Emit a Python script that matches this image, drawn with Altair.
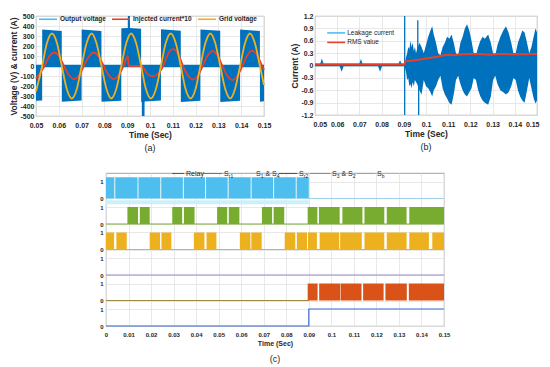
import altair as alt
import pandas as pd

FONT = "Liberation Sans"
DARK = "#262626"
GRID = "#e2e2e2"
FRAME = "#8c8c8c"
BLUE = "#0072BD"

# ---------------- panel (a) data ----------------
A_SERIES = ["Output voltage", "Injected current*10", "Grid voltage"]
A_COLORS = ["#4DBEEE", "#E4402B", "#EDB120"]
A_XTICKS = [0.05, 0.06, 0.07, 0.08, 0.09, 0.1, 0.11, 0.12, 0.13, 0.14, 0.15]
A_YTICKS = [-500, -400, -300, -200, -100, 0, 100, 200, 300, 400, 500]

GRID_T = [0.0500, 0.0527, 0.0548, 0.0570, 0.0592, 0.0613, 0.0635, 0.0657, 0.0679,
          0.0700, 0.0722, 0.0744, 0.0765, 0.0787, 0.0809, 0.0830, 0.0852,
          0.0874, 0.0896, 0.0917, 0.0939, 0.0961, 0.0982, 0.1004, 0.1026,
          0.1048, 0.1069, 0.1091, 0.1113, 0.1135, 0.1156, 0.1178, 0.1200,
          0.1221, 0.1243, 0.1265, 0.1286, 0.1308, 0.1330, 0.1352, 0.1373,
          0.1395, 0.1417, 0.1438, 0.1460, 0.1482, 0.1500]
GRID_V = [-255, 0, 230, 325, 230, 0, -230, -325, -230,
          0, 230, 325, 230, 0, -230, -325, -230,
          0, 230, 325, 230, 0, -230, -325, -230,
          0, 230, 325, 230, 0, -230, -325, -230,
          0, 230, 325, 230, 0, -230, -325, -230,
          0, 230, 325, 230, 0, -190]

INJ_T = [0.0500, 0.0537, 0.0558, 0.0580, 0.0602, 0.0623, 0.0645, 0.0667, 0.0689,
         0.0710, 0.0732, 0.0754, 0.0775, 0.0797, 0.0819, 0.0840, 0.0862,
         0.0884, 0.0895, 0.0903, 0.0907, 0.0935, 0.0965, 0.0985, 0.1014, 0.1036,
         0.1058, 0.1079, 0.1101, 0.1123, 0.1145, 0.1166, 0.1188, 0.1210,
         0.1231, 0.1253, 0.1275, 0.1296, 0.1318, 0.1340, 0.1362, 0.1383,
         0.1405, 0.1427, 0.1448, 0.1470, 0.1492, 0.1500]
INJ_V = [-126, 0, 95, 135, 95, 0, -92, -130, -92,
         0, 95, 135, 95, 0, -92, -130, -92,
         0, 70, 100, 0, 0, 0, -70, -105, -75,
         0, 120, 168, 120, 0, -95, -135, -95,
         0, 105, 150, 105, 0, -100, -140, -100,
         0, 108, 153, 108, 0, -38]

VOUT_T = [0.05000, 0.05270, 0.05272, 0.06130, 0.06132, 0.07000, 0.07002, 0.07870,
          0.07872, 0.08740, 0.08742, 0.09030, 0.09032, 0.09120, 0.09122, 0.09610,
          0.09612, 0.09640, 0.09642, 0.09760, 0.09762, 0.10480, 0.10482, 0.11350,
          0.11352, 0.12210, 0.12212, 0.13080, 0.13082, 0.13950, 0.13952, 0.14820,
          0.14822, 0.15000]
VOUT_V = [-348, -345, 365, 350, -358, -346, 366, 351,
          -358, -347, 378, 381, 500, 500, 381, 372,
          -360, -360, -500, -500, -356, -346, 368, 352,
          -360, -347, 366, 352, -360, -347, 365, 350,
          -358, -352]
ZERO_T = [0.05, 0.15]
ZERO_V = [0, 0]

# ---------------- panel (b) data ----------------
B_SERIES = ["Leakage current", "RMS value"]
B_COLORS = ["#4DBEEE", "#E4402B"]
B_YTICKS = [-1.2, -0.9, -0.6, -0.3, 0, 0.3, 0.6, 0.9, 1.2]

LEAK_T = [0.0500, 0.0522, 0.0531, 0.0540, 0.0611, 0.0620, 0.0629, 0.0698, 0.0707, 0.0716,
          0.0784, 0.0793, 0.0802, 0.0874, 0.0883, 0.0892, 0.0903,
          0.0905, 0.0910, 0.0915, 0.0920, 0.0925, 0.0930, 0.0935, 0.0940, 0.0945, 0.0950,
          0.0955, 0.0960, 0.0970, 0.0980, 0.0990, 0.1000, 0.1010, 0.1020, 0.1028, 0.1035,
          0.1045, 0.1055, 0.1065, 0.1075, 0.1085, 0.1095, 0.1105, 0.1115, 0.1125, 0.1135,
          0.1145, 0.1155, 0.1165, 0.1175, 0.1185, 0.1195, 0.1205, 0.1215, 0.1225, 0.1235,
          0.1245, 0.1255, 0.1265, 0.1280, 0.1292, 0.1302, 0.1312, 0.1322, 0.1335, 0.1348,
          0.1360, 0.1372, 0.1384, 0.1394, 0.1404, 0.1414, 0.1424, 0.1434, 0.1444, 0.1455,
          0.1465, 0.1475, 0.1485, 0.1493, 0.1500]
LEAK_HI = [0.02, 0.02, 0.17, 0.02, 0.02, 0.02, 0.02, 0.02, 0.16, 0.02,
           0.02, 0.02, 0.02, 0.02, 0.13, 0.02, 0.02,
           0.05, 0.20, 0.30, 0.45, 0.40, 0.60, 0.45, 0.55, 0.35, 0.45,
           0.30, 0.40, 0.55, 0.45, 0.30, 0.50, 0.70, 0.85, 0.95, 0.75,
           0.55, 0.30, 0.25, 0.45, 0.55, 0.70, 0.65, 0.75, 0.55, 0.30,
           0.25, 0.55, 0.70, 0.90, 1.00, 0.85, 0.60, 0.30, 0.25, 0.45,
           0.60, 0.70, 0.65, 0.75, 0.55, 0.30, 0.25, 0.50, 0.70, 0.85,
           0.95, 0.80, 0.55, 0.30, 0.30, 0.55, 0.70, 0.85, 0.80, 0.55,
           0.30, 0.45, 0.70, 0.90, 0.80]
LEAK_LO = [-0.02, -0.02, -0.02, -0.02, -0.02, -0.15, -0.02, -0.02, -0.02, -0.02,
           -0.02, -0.15, -0.02, -0.02, -0.02, -0.02, -0.02,
           -0.05, -0.15, -0.35, -0.30, -0.50, -0.45, -0.55, -0.40, -0.50, -0.35,
           -0.40, -0.45, -0.60, -0.70, -0.35, -0.50, -0.55, -0.65, -0.75, -0.60,
           -0.50, -0.35, -0.25, -0.55, -0.70, -0.80, -0.90, -0.95, -0.70, -0.35,
           -0.25, -0.45, -0.60, -0.70, -0.75, -0.65, -0.55, -0.30, -0.35, -0.60,
           -0.75, -0.85, -0.90, -0.95, -0.75, -0.35, -0.25, -0.45, -0.60, -0.65,
           -0.70, -0.65, -0.50, -0.30, -0.35, -0.60, -0.75, -0.85, -0.90, -0.60,
           -0.30, -0.55, -0.80, -0.92, -0.85]
SPIKE_T = [0.0904, 0.0963, 0.0967]
SPIKE_LO = [-1.2, 0.0, -1.2]
SPIKE_HI = [1.2, 1.1, 0.0]

RMS_T = [0.0500, 0.0904, 0.0906, 0.0950, 0.1000, 0.1050, 0.1080, 0.1100, 0.1130, 0.1160,
         0.1200, 0.1230, 0.1260, 0.1290, 0.1320, 0.1350, 0.1380, 0.1410, 0.1440, 0.1470, 0.1500]
RMS_V = [0.03, 0.03, 0.10, 0.13, 0.17, 0.21, 0.25, 0.26, 0.25, 0.27,
         0.28, 0.28, 0.27, 0.26, 0.28, 0.28, 0.27, 0.28, 0.27, 0.28, 0.28]

# legend of (b), placed in the panel's own units
LEGB_X0 = [0.0555, 0.0555]
LEGB_X1 = [0.0636, 0.0636]
LEGB_TX = [0.0645, 0.0645]
LEGB_Y = [0.79, 0.56]

# ---------------- panel (c) data ----------------
C_XTICKS = [0, 0.01, 0.02, 0.03, 0.04, 0.05, 0.06, 0.07, 0.08, 0.09, 0.1, 0.11, 0.12, 0.13, 0.14, 0.15]
C_YTICKS = [0, 1, 1.5, 2.5, 3, 4, 4.5, 5.5, 6, 7, 7.5, 8.5]

SB_START = [0.0, 0.0041, 0.0144, 0.0245, 0.0345, 0.0444, 0.0544, 0.0646, 0.0746, 0.0846]
SB_END = [0.0037, 0.0140, 0.0241, 0.0341, 0.0440, 0.0540, 0.0642, 0.0742, 0.0842, 0.0900]
S32_START = [0.0095, 0.0150, 0.0294, 0.0346, 0.0493, 0.0545, 0.0692, 0.0744,
             0.0895, 0.0945, 0.1049, 0.1147, 0.1246, 0.1346]
S32_END = [0.0142, 0.0194, 0.0338, 0.0393, 0.0538, 0.0592, 0.0737, 0.0791,
           0.0938, 0.1037, 0.1138, 0.1235, 0.1334, 0.1500]
S14_START = [0.0, 0.0046, 0.0194, 0.0246, 0.0390, 0.0446, 0.0594, 0.0645, 0.0793, 0.0847,
             0.0896, 0.0948, 0.1039, 0.1147, 0.1246, 0.1346, 0.1448]
S14_END = [0.0036, 0.0092, 0.0240, 0.0290, 0.0437, 0.0490, 0.0641, 0.0691, 0.0840, 0.0892,
           0.0936, 0.1035, 0.1135, 0.1235, 0.1334, 0.1433, 0.1500]
SR1_START = [0.0895, 0.0946, 0.1042, 0.1141, 0.1240, 0.1344]
SR1_END = [0.0939, 0.1040, 0.1134, 0.1232, 0.1335, 0.1500]
RELAY_T = [0.0, 0.09, 0.09, 0.15]
RELAY_V = [0, 0, 1, 1]

# rows: baseline level (0) of each stacked signal
ROW_BASE = {"Sb": 7.5, "S32": 6.0, "S14": 4.5, "Sr2": 3.0, "Sr1": 1.5, "Relay": 0.0}
ROW_COLOR = {"Sb": "#4DBEEE", "S32": "#77AC30", "S14": "#EDB120",
             "Sr2": "#7E2F8E", "Sr1": "#D95319", "Relay": "#3F6FD0"}

# legend of (c)
LEG_LINE_X0 = [0.0293, 0.0435, 0.0590, 0.0768, 0.0905, 0.1114]
LEG_LINE_X1 = [0.0346, 0.0515, 0.0657, 0.0848, 0.0994, 0.1194]
LEG_LINE_C = ["#0072BD", "#D95319", "#EDB120", "#7E2F8E", "#77AC30", "#4DBEEE"]
LEG_MAIN_X = [0.0355, 0.0524, 0.0666, 0.0708, 0.0737, 0.0857, 0.1003, 0.1045, 0.1074, 0.1203]
LEG_MAIN_S = ["Relay", "S", "S", "&", "S", "S", "S", "&", "S", "S"]
LEG_SUB_X = [0.0545, 0.0687, 0.0758, 0.0878, 0.1024, 0.1095, 0.1224]
LEG_SUB_S = ["r1", "1", "4", "r2", "3", "2", "b"]


def ax(**kw):
    base = dict(labelFont=FONT, titleFont=FONT, labelColor=DARK, titleColor=DARK,
                labelFontWeight="bold", titleFontWeight="bold", ticks=False, domain=False,
                grid=True, gridColor=GRID, gridWidth=0.8, labelOverlap=False,
                labelFlush=False, labelExpr="'' + datum.value")
    base.update(kw)
    return alt.Axis(**base)


# ================= panel (a) =================
SX_A = alt.Scale(domain=[0.05, 0.15], nice=False, zero=False)
SY_A = alt.Scale(domain=[-500, 500], nice=False)
AX_A_X = ax(values=A_XTICKS, title="Time (Sec)", labelFontSize=7, titleFontSize=8.5,
            labelPadding=5, titlePadding=2)
AX_A_Y = ax(values=A_YTICKS, title="Voltage (V) & current (A)", labelFontSize=7,
            titleFontSize=8.5, labelPadding=2, titlePadding=2, minExtent=16, maxExtent=16)


def xa(f):
    return alt.X(f + ":Q", scale=SX_A, axis=AX_A_X)


def ya(f):
    return alt.Y(f + ":Q", scale=SY_A, axis=AX_A_Y)


df_vout = pd.DataFrame({"t": VOUT_T, "v": VOUT_V})
df_vout["z"] = 0
df_zero = pd.DataFrame({"t": ZERO_T, "v": ZERO_V})
df_lines_a = pd.concat([
    pd.DataFrame({"t": INJ_T, "v": INJ_V, "s": A_SERIES[1]}),
    pd.DataFrame({"t": GRID_T, "v": GRID_V, "s": A_SERIES[2]}),
])

area_a = alt.Chart(df_vout).mark_area(color=BLUE, opacity=1).encode(
    x=xa("t"), y=ya("v"), y2="z:Q")
zero_a = alt.Chart(df_zero).mark_line(color=BLUE, strokeWidth=2.5).encode(x=xa("t"), y=ya("v"))
lines_a = alt.Chart(df_lines_a).mark_line(strokeWidth=1.8, interpolate="monotone").encode(
    x=xa("t"), y=ya("v"),
    color=alt.Color("s:N", scale=alt.Scale(domain=A_SERIES, range=A_COLORS),
                    legend=alt.Legend(title=None, orient="none", legendX=2, legendY=-7,
                                      direction="horizontal", symbolType="stroke",
                                      symbolSize=324, symbolStrokeWidth=1.6,
                                      labelFont=FONT, labelFontSize=6.5,
                                      labelFontWeight="bold", labelColor=DARK,
                                      labelOffset=2, columnPadding=2, padding=0)))

chart_a = alt.layer(area_a, zero_a, lines_a).properties(
    width=228, height=100,
    title=alt.TitleParams("(a)", orient="bottom", fontSize=9, fontWeight="normal",
                          font=FONT, color=DARK, offset=5))

# ================= panel (b) =================
SX_B = alt.Scale(domain=[0.05, 0.15], nice=False, zero=False)
SY_B = alt.Scale(domain=[-1.2, 1.2], nice=False)
AX_B_X = ax(values=A_XTICKS, title="Time (Sec)", labelFontSize=7, titleFontSize=8.5,
            labelPadding=5, titlePadding=2, labelFlush=True, labelFlushOffset=2)
AX_B_Y = ax(values=B_YTICKS, title="Current (A)", labelFontSize=7, titleFontSize=8.5,
            labelPadding=2, titlePadding=2, minExtent=14, maxExtent=14)


def xb(f):
    return alt.X(f + ":Q", scale=SX_B, axis=AX_B_X)


def yb(f):
    return alt.Y(f + ":Q", scale=SY_B, axis=AX_B_Y)


df_leak = pd.DataFrame({"tb": LEAK_T, "hi": LEAK_HI, "lo": LEAK_LO})
df_spike = pd.DataFrame({"tb": SPIKE_T, "hi": SPIKE_HI, "lo": SPIKE_LO})
df_rms = pd.DataFrame({"tb": RMS_T, "hi": RMS_V})
df_legb = pd.DataFrame({"tb": LEGB_X0, "tb2": LEGB_X1, "tx": LEGB_TX, "hi": LEGB_Y,
                        "s": B_SERIES, "c": B_COLORS})

area_b = alt.Chart(df_leak).mark_area(color=BLUE, opacity=1).encode(
    x=xb("tb"), y=yb("hi"), y2="lo:Q")
spike_b = alt.Chart(df_spike).mark_rule(color=BLUE, strokeWidth=1.3).encode(
    x=xb("tb"), y=yb("hi"), y2="lo:Q")
rms_b = alt.Chart(df_rms).mark_line(color=B_COLORS[1], strokeWidth=2).encode(
    x=xb("tb"), y=yb("hi"))
legb_lines = alt.Chart(df_legb).mark_rule(strokeWidth=1.6).encode(
    x=xb("tb"), x2="tb2:Q", y=yb("hi"), color=alt.Color("c:N", scale=None))
legb_text = alt.Chart(df_legb).mark_text(align="left", baseline="middle", fontSize=6.5,
                                         font=FONT, color=DARK).encode(
    x=xb("tx"), y=yb("hi"), text="s:N")

chart_b = alt.layer(area_b, spike_b, rms_b, legb_lines, legb_text).properties(
    width=222, height=99,
    title=alt.TitleParams("(b)", orient="bottom", fontSize=9, fontWeight="normal",
                          font=FONT, color=DARK, offset=5))

# ================= panel (c) =================
SX_C = alt.Scale(domain=[0, 0.15], nice=False, zero=False)
SY_C = alt.Scale(domain=[0, 9], nice=False, zero=False)
AX_C_X = ax(values=C_XTICKS, title="Time (Sec)", labelFontSize=6, titleFontSize=7,
            labelPadding=5, titlePadding=2)
AX_C_Y = ax(values=C_YTICKS, title="", labelFontSize=6, labelPadding=3,
            labelExpr="datum.value % 1.5 == 0 ? '0' : '1'")


def xc(f):
    return alt.X(f + ":Q", scale=SX_C, axis=AX_C_X)


def yc(f):
    return alt.Y(f + ":Q", scale=SY_C, axis=AX_C_Y)


rows = []
for key, starts, ends, top in [("Sb", SB_START, SB_END, 1.25), ("S32", S32_START, S32_END, 1.0),
                               ("S14", S14_START, S14_END, 1.0), ("Sr1", SR1_START, SR1_END, 1.0)]:
    for s, e in zip(starts, ends):
        rows.append({"cx": s, "cx2": e, "cy": ROW_BASE[key], "cy2": ROW_BASE[key] + top,
                     "c": ROW_COLOR[key]})
df_blocks = pd.DataFrame(rows)

df_base = pd.DataFrame({
    "cx": [0.0, 0.09, 0.0, 0.0, 0.0, 0.0],
    "cx2": [0.09, 0.15, 0.15, 0.15, 0.15, 0.09],
    "cy": [7.28, 7.5, 6.0, 4.5, 3.0, 1.5],
    "c": ["#cdeff9", "#9ecfe6", "#77AC30", "#EDB120", "#9a88c0", "#a08a3c"],
    "w": [4, 1, 1, 1, 1, 1],
})
df_relay = pd.DataFrame({"cx": RELAY_T, "cy": RELAY_V})

base_c = alt.Chart(df_base).mark_rule().encode(
    x=xc("cx"), x2="cx2:Q", y=yc("cy"),
    color=alt.Color("c:N", scale=None),
    strokeWidth=alt.StrokeWidth("w:Q", scale=None))
blocks_c = alt.Chart(df_blocks).mark_rect(opacity=1).encode(
    x=xc("cx"), x2="cx2:Q", y=yc("cy"), y2="cy2:Q", color=alt.Color("c:N", scale=None))
relay_c = alt.Chart(df_relay).mark_line(color=ROW_COLOR["Relay"], strokeWidth=1.2).encode(
    x=xc("cx"), y=yc("cy"))

df_leg_lines = pd.DataFrame({"cx": LEG_LINE_X0, "cx2": LEG_LINE_X1, "c": LEG_LINE_C})
df_leg_lines["cy"] = 8.97
df_leg_main = pd.DataFrame({"cx": LEG_MAIN_X, "s": LEG_MAIN_S})
df_leg_main["cy"] = 8.97
df_leg_sub = pd.DataFrame({"cx": LEG_SUB_X, "s": LEG_SUB_S})
df_leg_sub["cy"] = 8.85

leg_lines = alt.Chart(df_leg_lines).mark_rule(strokeWidth=1).encode(
    x=xc("cx"), x2="cx2:Q", y=yc("cy"), color=alt.Color("c:N", scale=None))
leg_main = alt.Chart(df_leg_main).mark_text(align="left", baseline="middle", fontSize=7,
                                            font=FONT, color=DARK).encode(
    x=xc("cx"), y=yc("cy"), text="s:N")
leg_sub = alt.Chart(df_leg_sub).mark_text(align="left", baseline="middle", fontSize=5,
                                           font=FONT, color=DARK).encode(
    x=xc("cx"), y=yc("cy"), text="s:N")

chart_c = alt.layer(base_c, blocks_c, relay_c, leg_lines, leg_main, leg_sub).properties(
    width=338, height=153,
    title=alt.TitleParams("(c)", orient="bottom", fontSize=9, fontWeight="normal",
                          font=FONT, color=DARK, offset=9))

# invisible spacer that pushes panel (c) to the right
spacer = alt.Chart(pd.DataFrame({"p": [0]})).mark_point(opacity=0, size=1).encode(
    x=alt.X("p:Q", axis=None, scale=alt.Scale(domain=[0, 1])),
    y=alt.Y("p:Q", axis=None, scale=alt.Scale(domain=[0, 1]))
).properties(width=63, height=10, view=alt.ViewBackground(strokeOpacity=0))

top = alt.hconcat(chart_a, chart_b, spacing=17).resolve_scale(
    x="independent", y="independent", color="independent").resolve_legend(color="independent")
bottom = alt.hconcat(spacer, chart_c, spacing=0).resolve_scale(
    x="independent", y="independent")
chart = alt.vconcat(top, bottom, spacing=16).resolve_scale(
    x="independent", y="independent", color="independent").properties(
    padding=0
).configure(font=FONT).configure_view(stroke=FRAME, strokeWidth=0.8)

chart.save("out.html", embed_options={"renderer": "svg", "actions": False})
